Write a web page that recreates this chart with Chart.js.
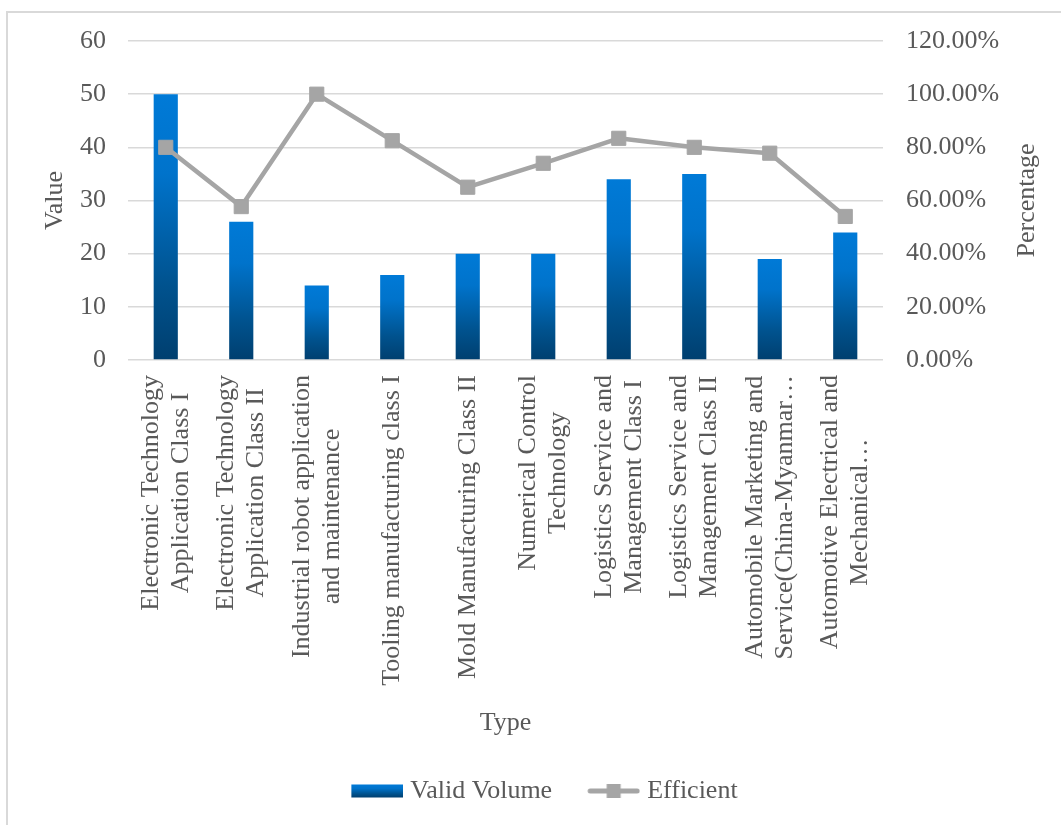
<!DOCTYPE html>
<html>
<head>
<meta charset="utf-8">
<script src="https://cdn.jsdelivr.net/npm/chart.js@4/dist/chart.umd.min.js"></script>
<style>
  html, body { margin: 0; padding: 0; background: #ffffff; overflow: hidden; }
  #frame {
    position: absolute; left: 6px; top: 11px; width: 1200px; height: 1000px;
    border-left: 2px solid #D9D9D9; border-top: 2px solid #D9D9D9;
  }
  #chart { position: absolute; left: 0; top: 0; }
</style>
</head>
<body>
<div id="frame"></div>
<canvas id="chart" width="1061" height="825"></canvas>
<script>
// Class categories (each entry holds the wrapped lines of one axis label)
const categories = [
  ["Electronic Technology", "Application Class I"],
  ["Electronic Technology", "Application Class II"],
  ["Industrial robot application", "and maintenance"],
  ["Tooling manufacturing class I"],
  ["Mold Manufacturing Class II"],
  ["Numerical Control", "Technology"],
  ["Logistics Service and", "Management Class I"],
  ["Logistics Service and", "Management Class II"],
  ["Automobile Marketing and", "Service(China-Myanmar\u2026"],
  ["Automotive Electrical and", "Mechanical\u2026"]
];

// Valid volume per class
const validVolume = [50, 26, 14, 16, 20, 20, 34, 35, 19, 24];

// Efficiency per class, in percent
const efficient = [80, 57.7, 100, 82.5, 65, 74, 83.4, 80, 77.8, 54];

// Axis tick settings
const valueTicks = { min: 0, max: 60, step: 10 };
const percentTicks = { min: 0, max: 120, step: 20 };

const FONT_FAMILY = '"Liberation Serif", "Times New Roman", serif';
const FONT_SIZE = 26;
const TEXT_COLOR = '#595959';
const GRID_COLOR = '#D9D9D9';
const LINE_COLOR = '#A5A5A5';

function barGradient(ctx, top, bottom) {
  const g = ctx.createLinearGradient(0, top, 0, bottom);
  g.addColorStop(0, '#007AD7');
  g.addColorStop(0.3, '#0073CB');
  g.addColorStop(0.72, '#00528E');
  g.addColorStop(1, '#003F6F');
  return g;
}

// Legend swatches drawn on small canvases
function makeBarSwatch() {
  const c = document.createElement('canvas');
  c.width = 58; c.height = 16;
  const x = c.getContext('2d');
  x.fillStyle = barGradient(x, 1.5, 14.5);
  x.fillRect(6, 1.5, 52, 13);
  return c;
}
function makeLineSwatch() {
  const c = document.createElement('canvas');
  c.width = 58; c.height = 16;
  const x = c.getContext('2d');
  x.strokeStyle = LINE_COLOR;
  x.lineWidth = 5;
  x.lineCap = 'round';
  x.beginPath();
  x.moveTo(8, 8); x.lineTo(55, 8);
  x.stroke();
  x.fillStyle = LINE_COLOR;
  x.fillRect(24.5, 1, 14, 14);
  return c;
}

// Category labels (rotated, lines centered on each other) and the
// right axis title, which reads upward like the left one
const axisText = {
  id: 'axisText',
  afterDraw(chart) {
    const xs = chart.scales.x;
    const ctx = chart.ctx;
    const gap = 15, lineH = 30;
    ctx.save();
    ctx.font = FONT_SIZE + 'px ' + FONT_FAMILY;
    ctx.fillStyle = TEXT_COLOR;
    ctx.textAlign = 'center';
    ctx.textBaseline = 'middle';
    categories.forEach((lines, i) => {
      const x = xs.getPixelForValue(i);
      const maxW = Math.max(...lines.map(l => ctx.measureText(l).width));
      ctx.save();
      ctx.translate(x, xs.top + gap);
      ctx.rotate(-Math.PI / 2);
      lines.forEach((line, j) => {
        const dy = (j - (lines.length - 1) / 2) * lineH;
        ctx.fillText(line, -maxW / 2, dy);
      });
      ctx.restore();
    });

    const ys = chart.scales.y1;
    const area = chart.chartArea;
    ctx.save();
    ctx.translate(ys.right - 18.4 - FONT_SIZE * 0.6, (area.top + area.bottom) / 2);
    ctx.rotate(-Math.PI / 2);
    ctx.fillText('Percentage', 0, 0);
    ctx.restore();
    ctx.restore();
  }
};

const font = { family: FONT_FAMILY, size: FONT_SIZE };

new Chart(document.getElementById('chart'), {
  type: 'bar',
  data: {
    labels: categories,
    datasets: [
      {
        type: 'line',
        label: 'Efficient',
        data: efficient,
        yAxisID: 'y1',
        order: 1,
        borderColor: LINE_COLOR,
        borderWidth: 4.5,
        borderJoinStyle: 'round',
        borderCapStyle: 'round',
        pointStyle: 'rect',
        pointRadius: 10,
        pointHoverRadius: 10,
        pointBackgroundColor: LINE_COLOR,
        pointBorderColor: LINE_COLOR,
        pointBorderWidth: 1,
        tension: 0,
        fill: false
      },
      {
        type: 'bar',
        label: 'Valid Volume',
        data: validVolume,
        yAxisID: 'y',
        order: 2,
        categoryPercentage: 1,
        barPercentage: 0.32,
        backgroundColor: (c) => {
          const chart = c.chart;
          if (!chart.chartArea || c.type !== 'data') return '#0070C0';
          const y = chart.scales.y;
          return barGradient(chart.ctx, y.getPixelForValue(c.raw), y.getPixelForValue(0));
        }
      }
    ]
  },
  options: {
    responsive: false,
    devicePixelRatio: 1,
    animation: false,
    events: [],
    layout: { padding: { top: 41, left: 28, right: 0, bottom: 11 } },
    plugins: {
      tooltip: { enabled: false },
      legend: {
        position: 'bottom',
        labels: {
          font,
          color: TEXT_COLOR,
          usePointStyle: true,
          pointStyleWidth: 46,
          padding: 36,
          generateLabels: () => [
            { text: 'Valid Volume', pointStyle: makeBarSwatch(), fillStyle: '#0070C0', strokeStyle: '#0070C0', lineWidth: 0, hidden: false, datasetIndex: 1, fontColor: TEXT_COLOR },
            { text: 'Efficient', pointStyle: makeLineSwatch(), fillStyle: LINE_COLOR, strokeStyle: LINE_COLOR, lineWidth: 0, hidden: false, datasetIndex: 0, fontColor: TEXT_COLOR }
          ]
        }
      }
    },
    scales: {
      x: {
        grid: { display: false, drawTicks: false },
        border: { display: false },
        ticks: { display: false },
        title: { display: true, text: 'Type', font, color: TEXT_COLOR, padding: { top: 0, bottom: 3.4 } },
        afterFit: (s) => { s.height = 382; }
      },
      y: {
        position: 'left',
        min: valueTicks.min, max: valueTicks.max,
        grid: { color: GRID_COLOR, lineWidth: 1.5, drawTicks: true, tickLength: 19, tickColor: 'transparent' },
        border: { display: false },
        ticks: { stepSize: valueTicks.step, font, color: TEXT_COLOR, padding: 3 },
        title: { display: true, text: 'Value', font, color: TEXT_COLOR, padding: { top: 11.4, bottom: 6.4 } }
      },
      y1: {
        position: 'right',
        min: percentTicks.min, max: percentTicks.max,
        grid: { drawOnChartArea: false, drawTicks: true, tickLength: 20, tickColor: 'transparent' },
        border: { display: false },
        ticks: { stepSize: percentTicks.step, font, color: TEXT_COLOR, padding: 3, callback: (v) => v.toFixed(2) + '%' },
        afterFit: (s) => { s.width = 178; }
      }
    }
  },
  plugins: [axisText]
});
</script>
</body>
</html>
